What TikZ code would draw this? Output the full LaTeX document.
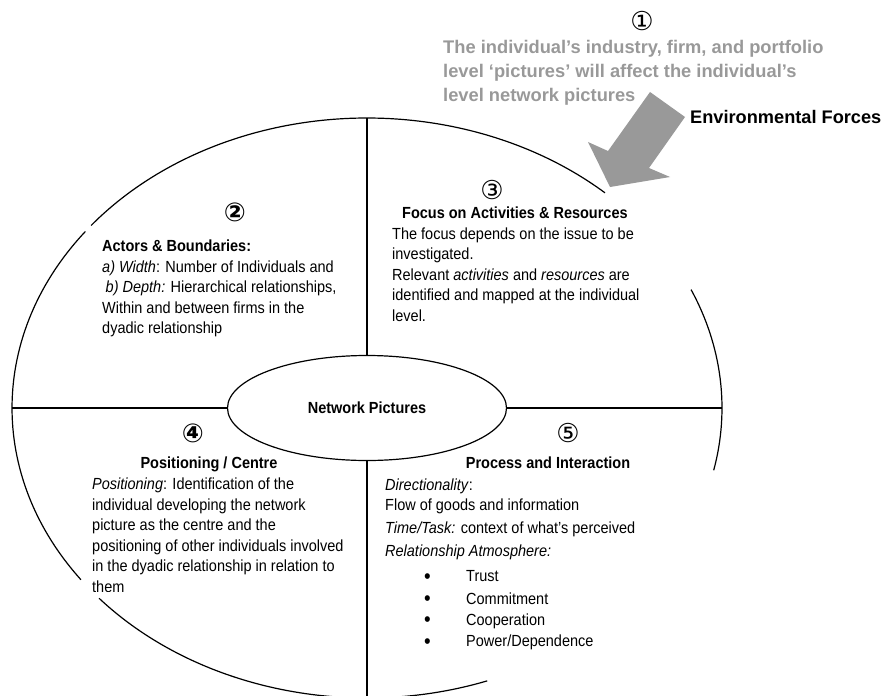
\documentclass[tikz,border=0pt]{standalone}
\usepackage{fontspec}
\setmainfont[FakeStretch=0.9]{Liberation Sans}
\newfontfamily\plainsans{Liberation Sans}
\newfontfamily\numfont{DejaVu Sans}
\usetikzlibrary{shapes.geometric}

\definecolor{forcegray}{RGB}{153,153,153}
\newcommand{\txtbody}{\fontsize{16.1}{20.5}\selectfont}
\newcommand{\txtnote}{\plainsans\fontsize{18.3}{24.2}\selectfont\bfseries}
% list bullet, a little larger than the body text one
\newcommand{\itembullet}{\makebox[81pt][l]{\hspace*{39pt}\raisebox{-1.2pt}{\fontsize{21}{21}\selectfont•}}}

\tikzset{
  outline/.style={line width=1.2pt, black},
  textblock/.style={anchor=north west, inner sep=0pt, align=left, font=\txtbody},
  heading/.style={anchor=base, inner sep=0pt, font=\txtbody\bfseries},
  marker/.style={inner sep=0pt, font=\numfont\fontsize{26}{26}\selectfont},
  boldmarker/.style={marker, font=\numfont\bfseries\fontsize{26}{26}\selectfont}
}

\begin{document}
\begin{tikzpicture}[x=1pt, y=-1pt]
  \useasboundingbox (0,0) rectangle (882,695);

  % outer frame: ellipse drawn as open arcs
  \coordinate (c) at (367,408);
  \draw[outline] (c) ++(-47.9:355 and 290)
    arc[start angle=-47.9, end angle=-141, x radius=355, y radius=290];
  \draw[outline] (c) ++(-142.5:355 and 290)
    arc[start angle=-142.5, end angle=-216.3, x radius=355, y radius=290];
  \draw[outline] (c) ++(-221:355 and 290)
    arc[start angle=-221, end angle=-289.8, x radius=355, y radius=290];
  \draw[outline] (c) ++(-24.1:355 and 290)
    arc[start angle=-24.1, end angle=12.4, x radius=355, y radius=290];

  % centre ellipse and quadrant dividers
  \node[ellipse, draw, outline, minimum width=279pt, minimum height=105pt,
        inner sep=0pt, font=\txtbody\bfseries] (np) at (367,408) {Network Pictures};
  \coordinate (topmid) at (367,118);
  \coordinate (botmid) at (367,698);
  \coordinate (leftmid) at (12,408);
  \coordinate (rightmid) at (722,408);
  \draw[outline] (topmid) -- (np.north);
  \draw[outline] (np.south) -- (botmid);
  \draw[outline] (leftmid) -- (np.west);
  \draw[outline] (np.east) -- (rightmid);

  % environmental forces arrow
  \fill[forcegray] (650,92) -- (685,117) -- (649,168) -- (670,177)
    -- (610,187) -- (588,142) -- (608,151) -- cycle;

  % 1: environmental forces
  \node[marker] (m1) at (642,21) {①};
  \node[anchor=north west, inner sep=0pt, align=left, font=\txtnote,
        text=forcegray] (note) at (443,36.4)
    {\strut The individual’s industry, firm, and portfolio\\
     level ‘pictures’ will affect the individual’s\\
     level network pictures};
  \node[anchor=base west, inner sep=0pt,
        font=\plainsans\fontsize{18.2}{20}\selectfont\bfseries]
    (env) at (690,123.3) {Environmental Forces};

  % 2: actors and boundaries
  \node[boldmarker] (m2) at (235,212) {②};
  \node[textblock] (q2) at (102,237.35)
    {\strut\textbf{Actors \& Boundaries:}\\
     \textit{a) Width}: Number of Individuals and\\
     \hspace*{3.5pt}\textit{b) Depth:} Hierarchical relationships,\\
     Within and between firms in the\\
     dyadic relationship};

  % 3: activities and resources
  \node[marker] (m3) at (492,190) {③};
  \node[textblock] (q3) at (392,203.95)
    {\strut\hspace*{10pt}\textbf{Focus on Activities \& Resources}\\
     The focus depends on the issue to be\\
     investigated.\\
     Relevant \textit{activities} and \textit{resources} are\\
     identified and mapped at the individual\\
     level.};

  % 4: positioning
  \node[boldmarker] (m4) at (193,433) {④};
  \node[heading] (h4) at (209,468.3) {Positioning / Centre};
  \begin{scope}
    \clip (80,470) rectangle (370,591.5);
    \node[textblock] (q4) at (92,474.95)
      {\strut\textit{Positioning}: Identification of the\\
       individual developing the network\\
       picture as the centre and the\\
       positioning of other individuals involved\\
       in the dyadic relationship in relation to\\
       them};
  \end{scope}

  % 5: process and interaction
  \node[marker] (m5) at (568,433) {⑤};
  \node[heading] (h5) at (548,468.3) {Process and Interaction};
  \node[textblock] (q5) at (385,476.35)
    {\strut\textit{Directionality}:\\[-1.2pt]
     Flow of goods and information\\[2.8pt]
     \textit{Time/Task:} context of what’s perceived\\[2.9pt]
     \textit{Relationship Atmosphere:}\\[4.5pt]
     \itembullet Trust\\[1.8pt]
     \itembullet Commitment\\[0.8pt]
     \itembullet Cooperation\\[0.9pt]
     \itembullet Power/Dependence};
\end{tikzpicture}
\end{document}
